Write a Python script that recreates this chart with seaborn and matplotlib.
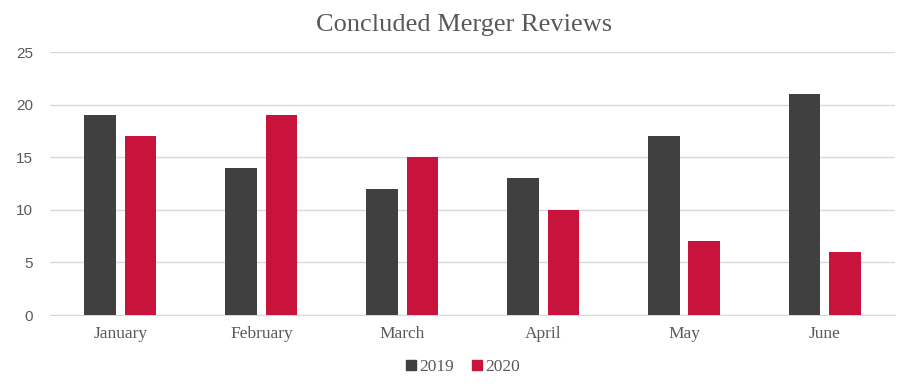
import pandas as pd
import matplotlib.pyplot as plt
import seaborn as sns

months = ['January', 'February', 'March', 'April', 'May', 'June']
reviews_2019 = [19, 14, 12, 13, 17, 21]
reviews_2020 = [17, 19, 15, 10, 7, 6]

df = pd.DataFrame({
    'Month': months * 2,
    'Year': ['2019'] * 6 + ['2020'] * 6,
    'Reviews': reviews_2019 + reviews_2020,
})

sns.set_style('white')
plt.rcParams['font.family'] = ['Liberation Serif', 'DejaVu Serif']

fig = plt.figure(figsize=(9.09, 3.89), dpi=100)
ax = fig.add_axes([0.055, 0.19, 0.93, 0.676])

sns.barplot(data=df, x='Month', y='Reviews', hue='Year',
            palette=['#404040', '#C8143C'], saturation=1, width=0.575, gap=0.22,
            linewidth=0, ax=ax, legend=False, zorder=3)

ax.set_ylim(0, 25)
ax.set_yticks(range(0, 26, 5))
ax.set_xlim(-0.5, 5.5)
ax.yaxis.grid(True, color='#d9d9d9', linewidth=1, zorder=0)
for s in ['top', 'right', 'left']:
    ax.spines[s].set_visible(False)
ax.spines['bottom'].set_color('#d9d9d9')
ax.tick_params(axis='both', length=0)
ax.tick_params(axis='x', labelsize=12.5, colors='#595959', pad=8)
ax.tick_params(axis='y', labelsize=11, colors='#595959', pad=12)
for lab in ax.get_yticklabels():
    lab.set_family(['Liberation Sans Narrow', 'Liberation Sans', 'DejaVu Sans'])
ax.set_xlabel('')
ax.set_ylabel('')

fig.suptitle('Concluded Merger Reviews', x=0.51, y=0.965, fontsize=19, color='#595959')

handles = [plt.Line2D([], [], marker='s', linestyle='', color=c, markersize=7)
           for c in ['#404040', '#C8143C']]
fig.legend(handles, ['2019', '2020'], loc='center', bbox_to_anchor=(0.508, 0.056),
           ncol=2, frameon=False, fontsize=12.5, handletextpad=0.1, handlelength=0.8,
           columnspacing=0.9, labelcolor='#595959')

plt.savefig('out.png', dpi=100)
